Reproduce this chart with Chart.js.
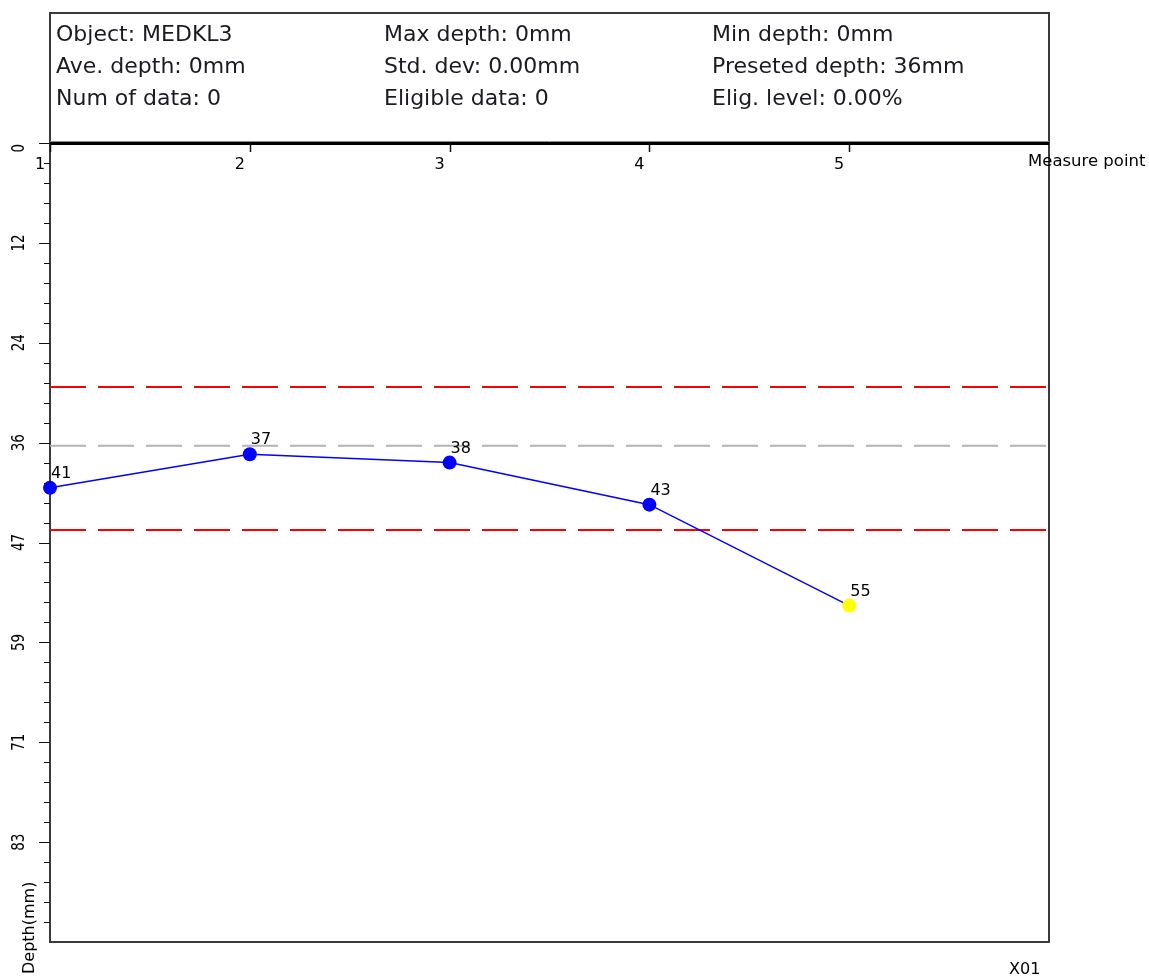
<!DOCTYPE html>
<html>
<head>
<meta charset="utf-8">
<title>Depth chart - MEDKL3</title>
<script src="https://cdn.jsdelivr.net/npm/chart.js@4.4.0/dist/chart.umd.min.js"></script>
<style>
  html, body { margin: 0; padding: 0; background: #fff; }
  #wrap { width: 1149px; height: 976px; position: relative; }
</style>
</head>
<body>
<div id="wrap"><canvas id="depth-chart"></canvas></div>
<script>
// measured data
const measurePoints = [1, 2, 3, 4, 5];
const depths        = [41, 37, 38, 43, 55];
const pointColors   = ['#0000ff', '#0000ff', '#0000ff', '#0000ff', '#ffff00'];

// reference lines (mm)
const presetDepth = 36;
const upperLimit  = 29;
const lowerLimit  = 46;

// axes
const xTicks      = [1, 2, 3, 4, 5];
const xMin = 1, xMax = 6;
const yTickLabels = ['0', '12', '24', '36', '47', '59', '71', '83'];
const yMax = 95;
const yMajorCount = 8;
const yMinorPerMajor = 5;

// header block
const headerCol1 = ['Object: MEDKL3', 'Ave. depth: 0mm', 'Num of data: 0'];
const headerCol2 = ['Max depth: 0mm', 'Std. dev: 0.00mm', 'Eligible data: 0'];
const headerCol3 = ['Min depth: 0mm', 'Preseted depth: 36mm', 'Elig. level: 0.00%'];

const FONT = '"DejaVu Sans", "Liberation Sans", sans-serif';
const TEXT = '#1a1a22';

const framePlugin = {
  id: 'frame',
  beforeDatasetsDraw(chart) {
    const { ctx, chartArea: a, scales: { x, y } } = chart;
    ctx.save();

    // outer box (header + plot)
    ctx.strokeStyle = '#3a3a3a';
    ctx.lineWidth = 2;
    ctx.strokeRect(a.left, 13, a.right - a.left, a.bottom - 13);

    // header bottom edge
    ctx.strokeStyle = '#8c8c8c';
    ctx.lineWidth = 1;
    ctx.beginPath();
    ctx.moveTo(a.left, 141.5);
    ctx.lineTo(a.right, 141.5);
    ctx.stroke();

    // top axis line
    ctx.strokeStyle = '#000';
    ctx.lineWidth = 3;
    ctx.beginPath();
    ctx.moveTo(a.left, a.top + 0.5);
    ctx.lineTo(a.right, a.top + 0.5);
    ctx.stroke();

    // y ticks, major + minor
    ctx.lineWidth = 1;
    ctx.strokeStyle = '#111';
    const step = yMax / yMajorCount;
    for (let j = 0; j < yMajorCount * yMinorPerMajor; j++) {
      const py = Math.round(y.getPixelForValue(j * step / yMinorPerMajor)) + 0.5;
      const len = j % yMinorPerMajor === 0 ? 11 : 6;
      ctx.beginPath();
      ctx.moveTo(a.left - len, py);
      ctx.lineTo(a.left, py);
      ctx.stroke();
    }

    // x ticks
    ctx.lineWidth = 1.5;
    xTicks.forEach(v => {
      const px = Math.round(x.getPixelForValue(v)) + 0.5;
      ctx.beginPath();
      ctx.moveTo(px, a.top);
      ctx.lineTo(px, a.top + 9);
      ctx.stroke();
    });

    ctx.restore();
  },
  afterDatasetsDraw(chart) {
    const { ctx, chartArea: a, scales: { x, y } } = chart;
    ctx.save();
    ctx.fillStyle = TEXT;

    // header texts
    ctx.font = '22px ' + FONT;
    ctx.textAlign = 'left';
    ctx.textBaseline = 'alphabetic';
    const colX = [a.left + 6, 384, 712];
    [headerCol1, headerCol2, headerCol3].forEach((col, c) => {
      col.forEach((t, r) => ctx.fillText(t, colX[c], 41 + r * 32));
    });

    ctx.fillStyle = '#000';

    // x tick labels (left of tick, under the axis)
    ctx.font = '16px ' + FONT;
    ctx.textAlign = 'center';
    xTicks.forEach(v => {
      ctx.fillText(String(v), x.getPixelForValue(v) - 10, a.top + 26);
    });

    // x axis title
    ctx.textAlign = 'left';
    ctx.font = '16.5px ' + FONT;
    ctx.fillText('Measure point', a.right - 21, a.top + 23);

    // y tick labels, rotated
    const step = yMax / yMajorCount;
    yTickLabels.forEach((lab, i) => {
      const py = y.getPixelForValue(i * step);
      ctx.save();
      ctx.translate(a.left - 31, i === 0 ? py + 1 : py);
      ctx.rotate(-Math.PI / 2);
      ctx.scale(1, 1.3);
      ctx.font = '13.5px ' + FONT;
      ctx.textAlign = i === 0 ? 'right' : 'center';
      ctx.textBaseline = 'middle';
      ctx.fillText(lab, 0, 0);
      ctx.restore();
    });

    // y axis title
    ctx.save();
    ctx.translate(a.left - 20, 974);
    ctx.rotate(-Math.PI / 2);
    ctx.font = '16px ' + FONT;
    ctx.textAlign = 'left';
    ctx.textBaseline = 'middle';
    ctx.fillText('Depth(mm)', 0, 0);
    ctx.restore();

    // footer code
    ctx.font = '16px ' + FONT;
    ctx.textAlign = 'left';
    ctx.textBaseline = 'alphabetic';
    ctx.fillText('X01', a.right - 40, 974);

    // value labels next to the points
    ctx.font = '16px ' + FONT;
    const meta = chart.getDatasetMeta(0);
    meta.data.forEach((pt, i) => {
      ctx.fillText(String(depths[i]), pt.x + 1, pt.y - 10);
    });

    ctx.restore();
  }
};

const hLine = (val, color) => ({
  data: [{ x: xMin, y: val }, { x: xMax, y: val }],
  borderColor: color,
  borderWidth: 2,
  borderDash: [36, 12],
  pointRadius: 0,
  tension: 0,
  clip: false,
});

const ctx = document.getElementById('depth-chart').getContext('2d');
new Chart(ctx, {
  type: 'line',
  data: {
    datasets: [
      {
        label: 'Depth',
        data: measurePoints.map((m, i) => ({ x: m, y: depths[i] })),
        borderColor: '#0000ff',
        borderWidth: 1.5,
        pointRadius: 7,
        pointBackgroundColor: pointColors,
        pointBorderColor: pointColors,
        pointBorderWidth: 0,
        tension: 0,
        clip: false,
      },
      hLine(presetDepth, '#b4b4b4'),
      hLine(upperLimit, '#ff0000'),
      hLine(lowerLimit, '#ff0000'),
    ],
  },
  options: {
    responsive: true,
    maintainAspectRatio: false,
    animation: false,
    layout: { padding: { left: 50, top: 143, right: 100, bottom: 34 } },
    plugins: {
      legend: { display: false },
      tooltip: { enabled: false },
    },
    scales: {
      x: { type: 'linear', min: xMin, max: xMax, display: false },
      y: { type: 'linear', min: 0, max: yMax, reverse: true, display: false },
    },
  },
  plugins: [framePlugin],
});
</script>
</body>
</html>
